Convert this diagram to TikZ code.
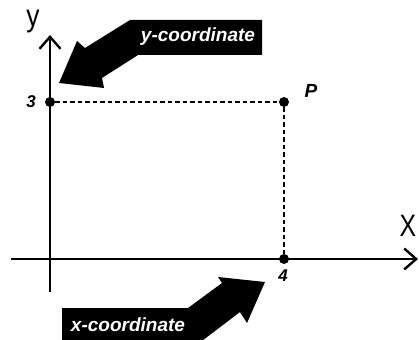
\documentclass[tikz,border=0pt]{standalone}
\usepackage{fontspec}
\setmainfont{Liberation Sans}
\usetikzlibrary{arrows.meta}
\begin{document}
\begin{tikzpicture}[x=1pt,y=-1pt,
  axis/.style={line width=2.4pt,-{Straight Barb[length=12pt,width=21pt]}},
  guide/.style={line width=2pt,dash pattern=on 4.5pt off 3pt},
  dot/.style={circle,fill=black,inner sep=0pt,minimum size=10pt},
  blockarrow/.style={fill=black},
  arrowtext/.style={text=white,inner sep=0pt,font=\fontsize{19}{19}\selectfont\bfseries\itshape},
  tick/.style={inner sep=0pt,font=\fontsize{17}{17}\selectfont\bfseries\itshape},
  axislabel/.style={inner sep=0pt,anchor=base,font=\fontsize{31}{31}\selectfont}]
\useasboundingbox (0,0) rectangle (419,339);
\clip (0,0) rectangle (419,339);
% axes
\coordinate (ybot) at (50,292);
\coordinate (ytop) at (50,35);
\coordinate (xleft) at (11,259);
\coordinate (xright) at (418,259);
\draw[axis] (ybot) -- (ytop);
\draw[axis] (xleft) -- (xright);
% points
\node[dot] (py) at (50,102) {};
\node[dot] (pp) at (284,102) {};
\node[dot] (px) at (284,259) {};
\draw[guide] (py) -- (pp);
\draw[guide] (pp) -- (px);
% labels
\node[axislabel] (ylab) at (33,27) {\scalebox{0.85}[1]{y}};
\node[axislabel] (xlab) at (408,236) {\scalebox{0.8}[1]{X}};
\node[tick] (l3) at (31,102) {3};
\node[tick] (l4) at (283,276) {4};
\node[tick,font=\fontsize{19}{19}\selectfont\bfseries\itshape] (lp) at (311,91) {P};
% y block arrow
\fill[blockarrow] (130,20) -- (262,20) -- (262,55) -- (138,55) -- (102,78)
  -- (104,88) -- (59,83) -- (77,41) -- (85,48) -- cycle;
\node[arrowtext] (yc) at (198,37) {y-coordinate};
% x block arrow
\fill[blockarrow] (62,350) -- (62,308) -- (188,308) -- (222,283) -- (218,277)
  -- (265,282) -- (247,323) -- (240,312) -- (190,350) -- cycle;
\node[arrowtext] (xc) at (128,325) {x-coordinate};
\end{tikzpicture}
\end{document}
